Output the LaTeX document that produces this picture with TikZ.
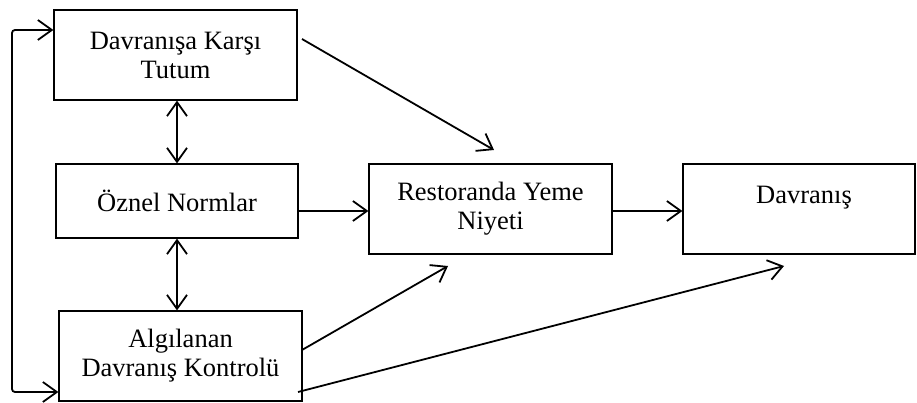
\documentclass[tikz,border=0pt]{standalone}
\usepackage{fontspec}
\setmainfont{Liberation Serif}
\usetikzlibrary{arrows.meta,calc}
\begin{document}
\begin{tikzpicture}[x=1pt,y=-1pt,
  box/.style={draw, line width=1.2pt, inner sep=0pt, align=center,
    font=\fontsize{26.5}{29}\selectfont},
  conn/.style={line width=1.8pt, -{Straight Barb[length=14pt,width=20pt,line width=1.8pt]}},
  dconn/.style={line width=1.8pt, {Straight Barb[length=14pt,width=20pt,line width=1.8pt]}-{Straight Barb[length=14pt,width=20pt,line width=1.8pt]}},
]
\useasboundingbox (0,0) rectangle (917,403);
\node[box, minimum width=243, minimum height=90] (tutum) at (175.5,55) {Davranışa Karşı\\Tutum};
\node[box, minimum width=242, minimum height=74] (oznel) at (177,201) {Öznel Normlar};
\node[box, minimum width=243, minimum height=90] (algi) at (180.5,356) {Algılanan\\Davranış Kontrolü};
\node[box, minimum width=243, minimum height=90] (niyet) at (490.5,209) {Restoranda Yeme\\Niyeti};
\node[box, minimum width=232, minimum height=90] (davr) at (799,209) {\hspace*{10pt}Davranış\\\mbox{}};
% helper coordinates
\coordinate (lt) at (12,30);
\coordinate (lb) at (12,392);
\coordinate (vx) at (177,0);
\coordinate (hy) at (0,211);
\coordinate (t1) at (302,39);
\coordinate (n1) at (494,150);
\coordinate (a1) at (302,350);
\coordinate (n2) at (448,266);
\coordinate (a2) at (298,392);
\coordinate (d1) at (784,266);
% connectors
\draw[dconn, rounded corners=3pt] (tutum.west |- lt) -- (lt) -- (lb) -- (algi.west |- lb);
\draw[dconn] (tutum.south -| vx) -- (oznel.north -| vx);
\draw[dconn] (oznel.south -| vx) -- (algi.north -| vx);
\draw[conn] (t1) -- (n1);
\draw[conn] (oznel.east |- hy) -- (niyet.west |- hy);
\draw[conn] (niyet.east |- hy) -- (davr.west |- hy);
\draw[conn] (a1) -- (n2);
\draw[conn] (a2) -- (d1);
\end{tikzpicture}
\end{document}
